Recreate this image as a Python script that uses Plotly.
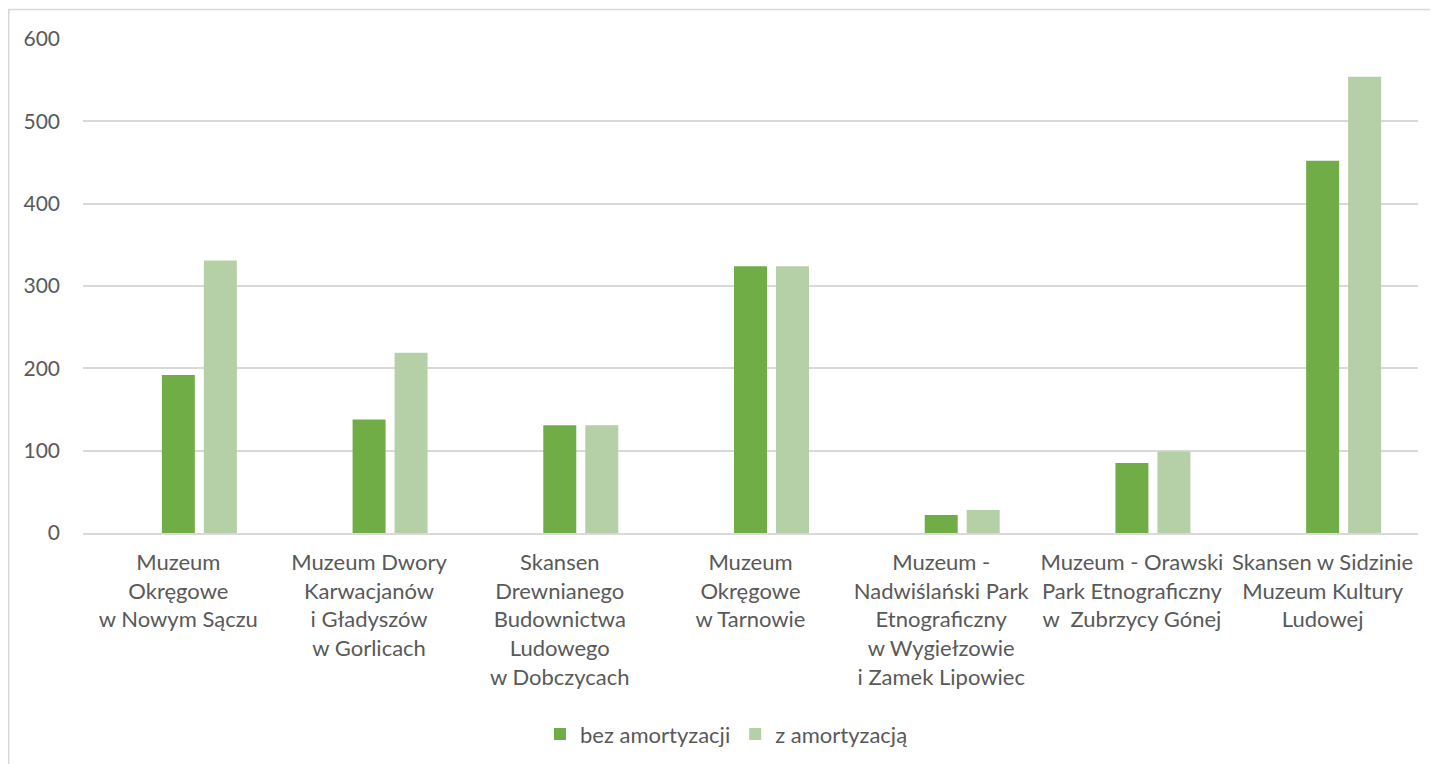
import plotly.graph_objects as go

categories = [
    "Muzeum<br>Okręgowe<br>w Nowym Sączu",
    "Muzeum Dwory<br>Karwacjanów<br>i Gładyszów<br>w Gorlicach",
    "Skansen<br>Drewnianego<br>Budownictwa<br>Ludowego<br>w Dobczycach",
    "Muzeum<br>Okręgowe<br>w Tarnowie",
    "Muzeum -<br>Nadwiślański Park<br>Etnograficzny<br>w Wygiełzowie<br>i Zamek Lipowiec",
    "Muzeum - Orawski<br>Park Etnograficzny<br>w  Zubrzycy Gónej",
    "Skansen w Sidzinie<br>Muzeum Kultury<br>Ludowej",
]
bez_amortyzacji = [192, 138, 131, 324, 22, 85, 452]
z_amortyzacja = [331, 219, 131, 324, 28, 99, 554]
y_ticks = [0, 100, 200, 300, 400, 500, 600]

FONT = "Lato, 'Open Sans', sans-serif"
TXT = "#595959"

fig = go.Figure()
fig.add_trace(go.Bar(
    x=categories, y=bez_amortyzacji, name="bez amortyzacji",
    marker=dict(color="#70AD47", line=dict(width=0)),
    width=0.173, offset=-0.0865,
))
fig.add_trace(go.Bar(
    x=categories, y=z_amortyzacja, name="z amortyzacją",
    marker=dict(color="#B5CFA6", line=dict(width=0)),
    width=0.173, offset=0.1337,
))

fig.update_layout(
    width=1438, height=764,
    margin=dict(l=75, r=28, t=31, b=238.5),
    paper_bgcolor="white", plot_bgcolor="white",
    barmode="overlay",
    font=dict(family=FONT, size=22, color=TXT),
    showlegend=True,
    legend=dict(orientation="h", x=0.482, xanchor="center", y=-0.4075, yanchor="middle",
                font=dict(family=FONT, size=22, color=TXT), itemwidth=30,
                traceorder="normal"),
    xaxis=dict(
        showgrid=False, showline=True, linecolor="#d9d9d9", linewidth=1.5,
        ticks="", tickfont=dict(family=FONT, size=22, color=TXT),
        tickangle=0, automargin=False, ticklabelstandoff=9,
    ),
    yaxis=dict(
        range=[0, 600], tickvals=y_ticks, showgrid=True, gridcolor="#d9d9d9",
        gridwidth=1.5, zeroline=False, showline=False, ticks="",
        tickfont=dict(family=FONT, size=21, color=TXT),
        ticklabelstandoff=22, automargin=False,
    ),
    shapes=[dict(type="rect", xref="paper", yref="paper",
                 x0=-0.0556, x1=1.2, y0=-0.6, y1=1.0597,
                 line=dict(color="#d9d9d9", width=1.5), layer="below")],
)

fig.write_html("out.html")
